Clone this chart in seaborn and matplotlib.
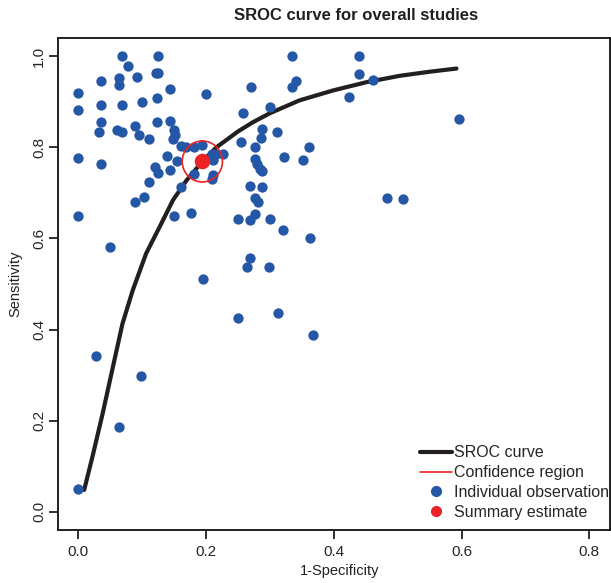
import numpy as np
import pandas as pd
import matplotlib
matplotlib.use("Agg")
import matplotlib.pyplot as plt
from matplotlib.lines import Line2D
from matplotlib.patches import Ellipse
import seaborn as sns

# valores: 1-especificidade e sensibilidade de cada estudo
fpr = [0.068, 0.125, 0.334, 0.440, 0.077, 0.121, 0.125, 0.091, 0.064, 0.036,
       0.063, 0.440, 0.461, 0.340, 0.334, 0.270, 0.143, 0.000, 0.200, 0.424,
       0.123, 0.100, 0.068, 0.036, 0.300, 0.000, 0.257, 0.596, 0.036, 0.123,
       0.143, 0.089, 0.288, 0.060, 0.149, 0.033, 0.068, 0.311, 0.095, 0.152,
       0.286, 0.111, 0.148, 0.255, 0.194, 0.160, 0.168, 0.181, 0.276, 0.361,
       0.209, 0.215, 0.226, 0.138, 0.322, 0.000, 0.276, 0.210, 0.351, 0.154,
       0.036, 0.279, 0.120, 0.284, 0.143, 0.287, 0.125, 0.181, 0.210, 0.209,
       0.111, 0.268, 0.160, 0.287, 0.102, 0.276, 0.483, 0.508, 0.088, 0.281,
       0.176, 0.276, 0.000, 0.150, 0.250, 0.268, 0.300, 0.320, 0.362, 0.050,
       0.268, 0.264, 0.299, 0.195, 0.250, 0.313, 0.368, 0.028, 0.098, 0.063,
       0.000]
sens = [1.000, 1.000, 1.000, 1.000, 0.978, 0.964, 0.964, 0.955, 0.952, 0.945,
        0.937, 0.960, 0.947, 0.946, 0.933, 0.933, 0.928, 0.920, 0.918, 0.910,
        0.909, 0.899, 0.894, 0.892, 0.889, 0.882, 0.875, 0.863, 0.855, 0.855,
        0.857, 0.846, 0.840, 0.839, 0.839, 0.833, 0.833, 0.833, 0.828, 0.828,
        0.821, 0.818, 0.818, 0.812, 0.806, 0.803, 0.800, 0.800, 0.800, 0.800,
        0.786, 0.786, 0.786, 0.781, 0.778, 0.776, 0.775, 0.773, 0.772, 0.770,
        0.764, 0.764, 0.756, 0.753, 0.750, 0.748, 0.743, 0.742, 0.740, 0.730,
        0.725, 0.716, 0.714, 0.714, 0.690, 0.689, 0.689, 0.687, 0.680, 0.680,
        0.655, 0.654, 0.649, 0.650, 0.643, 0.641, 0.643, 0.619, 0.600, 0.581,
        0.557, 0.537, 0.537, 0.512, 0.425, 0.437, 0.387, 0.341, 0.299, 0.186,
        0.050]

# curva SROC lida ponto a ponto
curva_fpr = [0.009, 0.022, 0.038, 0.054, 0.069, 0.085, 0.106, 0.127, 0.148,
             0.169, 0.194, 0.216, 0.250, 0.273, 0.300, 0.346, 0.399, 0.451,
             0.503, 0.550, 0.592]
curva_sens = [0.048, 0.121, 0.216, 0.318, 0.413, 0.486, 0.567, 0.625, 0.684,
              0.727, 0.769, 0.800, 0.835, 0.855, 0.875, 0.903, 0.925, 0.943,
              0.957, 0.966, 0.973]

# estimativa resumo
resumo_fpr = [0.194]
resumo_sens = [0.769]

azul = "#2457A6"
vermelho = "#EC2227"
preto = "#231F20"

sns.set_style("ticks")
plt.rcParams["font.family"] = ["Liberation Sans", "DejaVu Sans"]

df_obs = pd.DataFrame({"fpr": fpr, "sens": sens})
df_curva = pd.DataFrame({"fpr": curva_fpr, "sens": curva_sens})
df_resumo = pd.DataFrame({"fpr": resumo_fpr, "sens": resumo_sens})

fig = plt.figure(figsize=(6.11, 5.83), dpi=100)
ax = fig.add_axes([0.0949, 0.0909, 0.9031, 0.8439])

sns.scatterplot(data=df_obs, x="fpr", y="sens", ax=ax, color=azul, s=55,
                linewidth=0, zorder=3)
sns.lineplot(data=df_curva, x="fpr", y="sens", ax=ax, color=preto,
             linewidth=3.0, sort=False, zorder=2, solid_joinstyle="round")
sns.scatterplot(data=df_resumo, x="fpr", y="sens", ax=ax, color=vermelho,
                s=125, linewidth=0, zorder=5)
ax.add_patch(Ellipse((resumo_fpr[0], resumo_sens[0]), 0.063, 0.090,
                     fill=False, edgecolor=vermelho, linewidth=1.2, zorder=4))

ax.set_xlim(-0.032, 0.832)
ax.set_ylim(-0.04, 1.04)
ax.set_xticks([0.0, 0.2, 0.4, 0.6, 0.8])
ax.set_yticks([0.0, 0.2, 0.4, 0.6, 0.8, 1.0])
ax.set_xticklabels(["0.0", "0.2", "0.4", "0.6", "0.8"])
ax.set_yticklabels(["0.0", "0.2", "0.4", "0.6", "0.8", "1.0"],
                   rotation=90, va="center")
ax.tick_params(axis="both", direction="out", length=6.5, width=1.3,
               color=preto, labelsize=11, pad=4)
ax.tick_params(axis="y", pad=2)
for lado in ["left", "bottom", "right", "top"]:
    ax.spines[lado].set_visible(True)
    ax.spines[lado].set_linewidth(1.4)
    ax.spines[lado].set_color(preto)

ax.set_xlabel("1-Specificity", fontsize=10.5, color=preto)
ax.set_ylabel("Sensitivity", fontsize=10.5, color=preto)
ax.xaxis.set_label_coords(0.511, -0.070)
ax.yaxis.set_label_coords(-0.064, 0.5)

fig.text(356 / 611, 1 - 15 / 583, "SROC curve for overall studies",
         ha="center", va="center", fontsize=12, fontweight="bold", color=preto)

handles = [
    Line2D([], [], color=preto, linewidth=3.0),
    Line2D([], [], color=vermelho, linewidth=1.2),
    Line2D([], [], color=azul, marker="o", linestyle="", markersize=7),
    Line2D([], [], color=vermelho, marker="o", linestyle="", markersize=7),
]
rotulos = ["SROC curve", "Confidence region", "Individual observation",
           "Summary estimate"]
ax.legend(handles, rotulos, loc="upper left", bbox_to_anchor=(0.656, 0.172),
          frameon=False, fontsize=11.5, handlelength=2.0, handletextpad=0.15,
          labelspacing=0.3, borderpad=0, borderaxespad=0)

fig.savefig("out.png", dpi=100)
